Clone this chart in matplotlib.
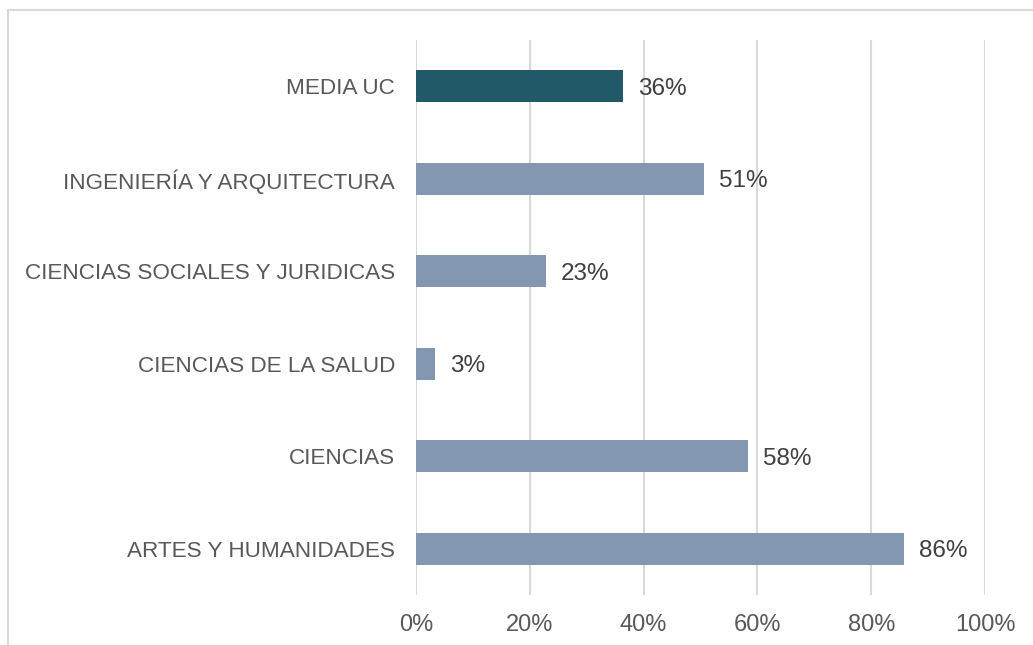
import matplotlib
matplotlib.use("Agg")
import matplotlib.pyplot as plt
from matplotlib.patches import Rectangle

categories = ["MEDIA UC", "INGENIERÍA Y ARQUITECTURA", "CIENCIAS SOCIALES Y JURIDICAS",
              "CIENCIAS DE LA SALUD", "CIENCIAS", "ARTES Y HUMANIDADES"]
values = [36.3, 50.6, 22.8, 3.3, 58.3, 85.7]
labels = ["36%", "51%", "23%", "3%", "58%", "86%"]
colors = ["#215968", "#8497B0", "#8497B0", "#8497B0", "#8497B0", "#8497B0"]
xticks = [0, 20, 40, 60, 80, 100]
xticklabels = ["0%", "20%", "40%", "60%", "80%", "100%"]

plt.rcParams['font.family'] = ['Liberation Sans', 'DejaVu Sans']
W, H = 1033, 645
fig = plt.figure(figsize=(W / 100, H / 100), dpi=100)
ax = fig.add_axes([416 / W, 1 - 595 / H, (985 - 416) / W, (595 - 40) / H])

ypos = list(range(len(categories)))
ax.barh(ypos, values, height=0.35, color=colors, zorder=3)
ax.set_ylim(len(categories) - 0.5, -0.5)
ax.set_xlim(0, 100)
ax.set_yticks(ypos)
ax.set_yticklabels(categories, fontsize=16.2, color="#595959")
ax.set_xticks(xticks)
ax.set_xticklabels(xticklabels, fontsize=17, color="#595959")
ax.tick_params(axis="y", length=0, pad=15)
ax.tick_params(axis="x", length=0, pad=14)
for s in ax.spines.values():
    s.set_visible(False)
ax.grid(axis="x", color="#D9D9D9", linewidth=1.5, zorder=0)
ax.set_axisbelow(True)

for y, v, lab in zip(ypos, values, labels):
    ax.annotate(lab, (v, y), xytext=(11, 0), textcoords="offset points",
                va="center_baseline", ha="left", fontsize=17.5, color="#404040")

fig.patches.append(Rectangle((8 / W, -0.05), 1.2, 1 - 10 / H + 0.05, transform=fig.transFigure,
                             fill=False, edgecolor="#D9D9D9", linewidth=1.5))

fig.savefig("out.png", dpi=100)
